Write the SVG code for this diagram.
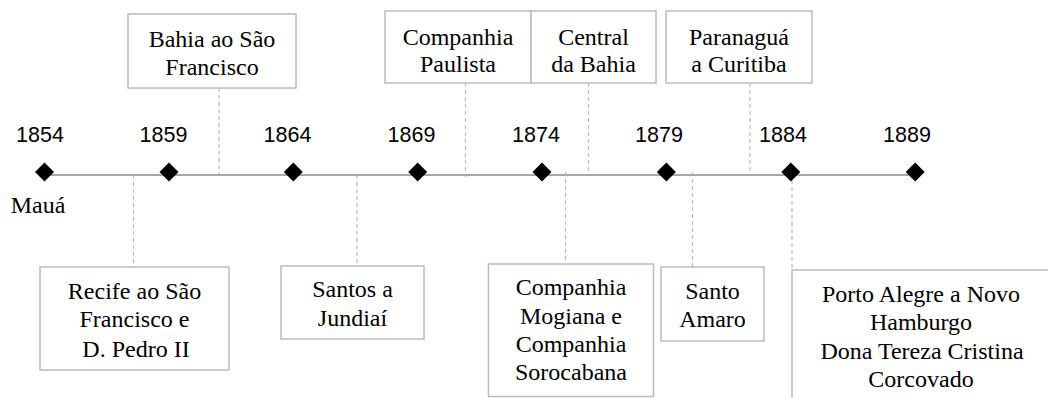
<svg xmlns="http://www.w3.org/2000/svg" width="1048" height="398" viewBox="0 0 1048 398">
<style>
.box{fill:#ffffff;stroke:#bcbcbc;stroke-width:1.5}
.t{font-family:"Liberation Serif","Times New Roman",serif;font-size:24px;fill:#000;text-anchor:middle}
.yr{font-family:"Liberation Sans",Arial,sans-serif;font-size:21.5px;fill:#000;text-anchor:middle}
.dash{stroke:#bcbcbc;stroke-width:1.2;stroke-dasharray:4 3;fill:none}
.axis{stroke:#a6a6a6;stroke-width:2}
.dia{fill:#000}
</style>
<rect width="1048" height="398" fill="#ffffff"/>
<g id="connectors">
<line class="dash" x1="219" y1="88" x2="219" y2="174"/>
<line class="dash" x1="465.5" y1="83" x2="465.5" y2="177"/>
<line class="dash" x1="588.5" y1="83" x2="588.5" y2="175"/>
<line class="dash" x1="750" y1="83" x2="750" y2="172"/>
<line class="dash" x1="133.5" y1="175" x2="133.5" y2="267"/>
<line class="dash" x1="357" y1="175" x2="357" y2="266"/>
<line class="dash" x1="565.5" y1="172" x2="565.5" y2="264"/>
<line class="dash" x1="692.5" y1="172" x2="692.5" y2="267"/>
<line class="dash" x1="792" y1="180" x2="792" y2="270"/>
</g>
<g id="timeline">
<line class="axis" x1="44" y1="175" x2="915" y2="175"/>
<g id="years">
<path class="dia" d="M44.5 162.5 L54 172 L44.5 181.5 L35 172 Z"/>
<path class="dia" d="M169 162.5 L178.5 172 L169 181.5 L159.5 172 Z"/>
<path class="dia" d="M293.3 162.5 L302.8 172 L293.3 181.5 L283.8 172 Z"/>
<path class="dia" d="M417.7 162.5 L427.2 172 L417.7 181.5 L408.2 172 Z"/>
<path class="dia" d="M542 162.5 L551.5 172 L542 181.5 L532.5 172 Z"/>
<path class="dia" d="M666.4 162.5 L675.9 172 L666.4 181.5 L656.9 172 Z"/>
<path class="dia" d="M790.8 162.5 L800.3 172 L790.8 181.5 L781.3 172 Z"/>
<path class="dia" d="M915.2 162.5 L924.7 172 L915.2 181.5 L905.7 172 Z"/>
<text class="yr" x="40" y="142">1854</text>
<text class="yr" x="163.5" y="142">1859</text>
<text class="yr" x="287.5" y="142">1864</text>
<text class="yr" x="411.5" y="142">1869</text>
<text class="yr" x="536" y="142">1874</text>
<text class="yr" x="659" y="142">1879</text>
<text class="yr" x="783" y="142">1884</text>
<text class="yr" x="907" y="142">1889</text>
</g>
</g>
<g id="maua">
<text class="t" x="38" y="213">Mauá</text>
</g>
<g id="bahia-sao-francisco">
<rect class="box" x="128" y="14" width="168" height="74"/>
<text class="t" x="212" y="46.5">Bahia ao São</text>
<text class="t" x="212" y="75">Francisco</text>
</g>
<g id="companhia-paulista">
<rect class="box" x="385" y="11" width="146" height="72"/>
<text class="t" x="458" y="44.5">Companhia</text>
<text class="t" x="458" y="72">Paulista</text>
</g>
<g id="central-bahia">
<rect class="box" x="531" y="11" width="125" height="72"/>
<text class="t" x="593.5" y="44.5">Central</text>
<text class="t" x="593.5" y="72">da Bahia</text>
</g>
<g id="paranagua-curitiba">
<rect class="box" x="666" y="11" width="146" height="72"/>
<text class="t" x="739" y="44.5">Paranaguá</text>
<text class="t" x="739" y="72">a Curitiba</text>
</g>
<g id="recife-sao-francisco">
<rect class="box" x="40" y="267" width="189" height="103"/>
<text class="t" x="134.5" y="298.5">Recife ao São</text>
<text class="t" x="134.5" y="327">Francisco e</text>
<text class="t" x="136" y="356.5">D. Pedro II</text>
</g>
<g id="santos-jundiai">
<rect class="box" x="281" y="266" width="143" height="73"/>
<text class="t" x="352.5" y="297">Santos a</text>
<text class="t" x="352.5" y="326">Jundiaí</text>
</g>
<g id="mogiana-sorocabana">
<rect class="box" x="488.5" y="264" width="165" height="132.5"/>
<text class="t" x="571" y="295">Companhia</text>
<text class="t" x="571" y="323.5">Mogiana e</text>
<text class="t" x="571" y="352">Companhia</text>
<text class="t" x="571" y="380">Sorocabana</text>
</g>
<g id="santo-amaro">
<rect class="box" x="661" y="267" width="103" height="74"/>
<text class="t" x="712.5" y="298.5">Santo</text>
<text class="t" x="712.5" y="326.5">Amaro</text>
</g>
<g id="porto-alegre">
<rect class="box" x="792" y="270" width="270" height="140"/>
<text class="t" x="921" y="301.5">Porto Alegre a Novo</text>
<text class="t" x="921" y="330">Hamburgo</text>
<text class="t" x="922" y="358.5">Dona Tereza Cristina</text>
<text class="t" x="921" y="387">Corcovado</text>
</g>
</svg>
